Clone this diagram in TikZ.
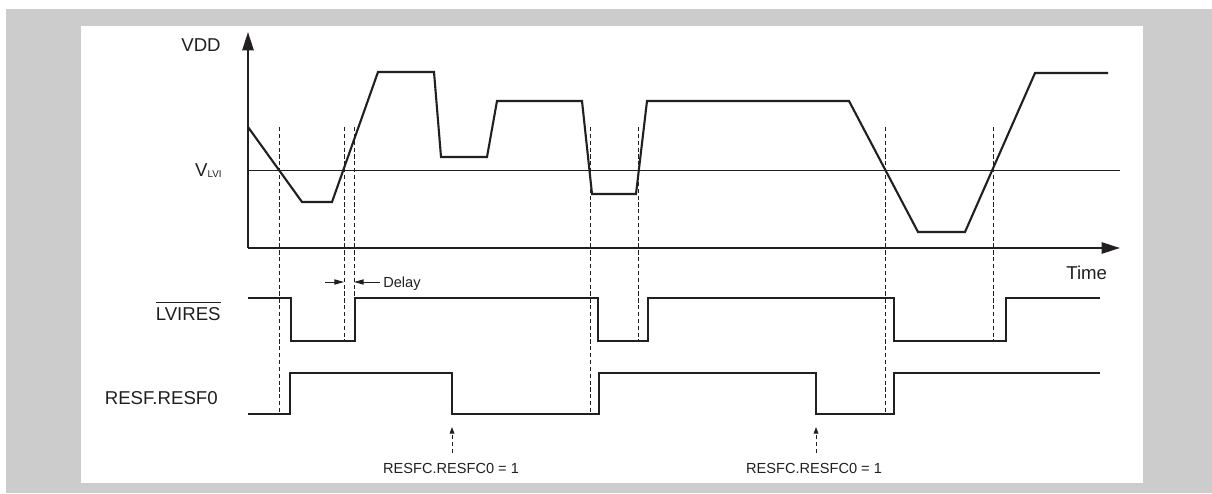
\documentclass[tikz,border=0pt]{standalone}
\usepackage{fontspec}
\setmainfont{Liberation Sans}
\usetikzlibrary{arrows.meta}
\definecolor{FrameGray}{HTML}{CCCCCC}
\definecolor{Ink}{HTML}{231F20}

\begin{document}
\begin{tikzpicture}[
    x=0.02cm, y=-0.02cm,
    wave/.style={Ink, line width=1.2pt, line join=miter},
    guide/.style={Ink, line width=0.5pt, dash pattern=on 2.4pt off 1.5pt},
    axis/.style={Ink, line width=1.2pt, -{Triangle[length=10.5pt, width=6.4pt]}},
    mark arrow/.style={Ink, line width=0.5pt, -{Triangle[length=5.5pt, width=3pt]}},
    lbl/.style={font=\fontsize{10.6}{12}\selectfont, Ink, inner sep=0pt},
    note/.style={font=\fontsize{8.3}{10}\selectfont, Ink, inner sep=0pt}
]
% Frame
\useasboundingbox (0,0) rectangle (1212,493);
\fill[FrameGray] (6,9) rectangle (1212,493);
\fill[white] (81,26) rectangle (1143,483);

% Axes
\coordinate (origin) at (248,248);
\coordinate (vtop) at (248,32);
\coordinate (tend) at (1120,248);
\draw[axis] (origin) -- (vtop);
\draw[axis] (origin) -- (tend);
\node[lbl, anchor=base east] (vdd) at (221,52) {VDD};
\node[lbl, anchor=base west] (time) at (1066,279) {Time};

% Threshold level
\draw[Ink, line width=0.45pt] (248,170) -- (1120,170);
\node[lbl, anchor=base east] (vlvi) at (222,176)
    {V{\fontsize{5.6}{6}\selectfont\raisebox{-1pt}{LVI}}};

% Guide lines
\foreach \x/\yb in {279/413, 344/341, 354/297, 590/413, 638/341, 885/413, 993/341} {
    \draw[guide] (\x,127) -- (\x,\yb);
}

% VDD
\draw[wave] (248,127) -- (302,202) -- (332,202) -- (378,72) -- (434,72)
    -- (441,157) -- (487,157) -- (497,101) -- (582,101) -- (592,194)
    -- (636,194) -- (647,101) -- (849,101) -- (918,232) -- (965,232)
    -- (1035,73) -- (1108,73);

% LVIRES
\node[lbl, anchor=base east] (lvires) at (221,320)
    {$\overline{\mbox{\rule{0pt}{8.8pt}LVIRES}}$};
\draw[wave] (248,298) -- (291,298) -- (291,341) -- (355,341) -- (355,298)
    -- (598,298) -- (598,341) -- (648,341) -- (648,298) -- (894,298)
    -- (894,341) -- (1006,341) -- (1006,298) -- (1100,298);

% RESF.RESF0
\node[lbl, anchor=base east] (resf) at (218,404) {RESF.RESF0};
\draw[wave] (248,414) -- (290,414) -- (290,373) -- (452,373) -- (452,414)
    -- (599,414) -- (599,373) -- (816,373) -- (816,414) -- (894,414)
    -- (894,373) -- (1100,373);

% Delay
\coordinate (dl) at (325,282);
\coordinate (dlend) at (344,282);
\coordinate (dr) at (380,282);
\coordinate (drend) at (354,282);
\draw[mark arrow] (dl) -- (dlend);
\draw[mark arrow] (dr) -- (drend);
\node[note, anchor=base west] (delay) at (383,287) {Delay};

% Flag clear
\node[note, anchor=base] (clr1) at (451,473) {RESFC.RESFC0 = 1};
\node[note, anchor=base] (clr2) at (814,473) {RESFC.RESFC0 = 1};
\coordinate (clr1 foot) at (452,453);
\coordinate (clr1 tip) at (452,427);
\coordinate (clr2 foot) at (816,453);
\coordinate (clr2 tip) at (816,427);
\draw[mark arrow, guide, -{Triangle[length=3.8pt, width=2.7pt]}] (clr1 foot) -- (clr1 tip);
\draw[mark arrow, guide, -{Triangle[length=3.8pt, width=2.7pt]}] (clr2 foot) -- (clr2 tip);
\end{tikzpicture}
\end{document}
